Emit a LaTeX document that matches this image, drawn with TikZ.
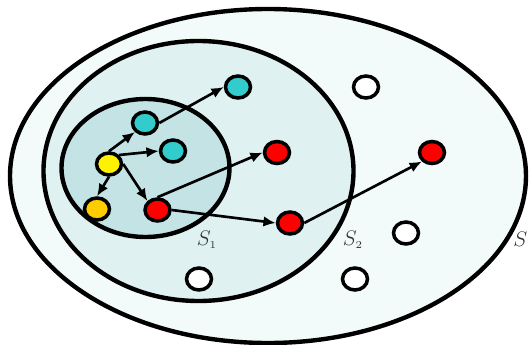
\documentclass[tikz,border=0pt]{standalone}
\usepackage{tikz}
\usetikzlibrary{shapes.geometric,arrows.meta}
\definecolor{setS}{HTML}{F2FAFA}
\definecolor{setSb}{HTML}{E0F1F2}
\definecolor{setSa}{HTML}{C4E3E5}
\definecolor{cyanpt}{HTML}{33CCCC}
\definecolor{orangept}{HTML}{FFCC00}
\begin{document}
\begin{tikzpicture}[>=latex,x=0.02cm,y=-0.02cm,
    pt/.style={ellipse,draw,line width=2pt,minimum width=0.5cm,minimum height=0.44cm,inner sep=0pt},
    arr/.style={-{Latex[length=7pt,width=6pt]},line width=1.5pt},
    setline/.style={line width=2.5pt},
    setlabel/.style={text=black!80,font=\large\itshape,inner sep=0pt}]
  % Rahmen (1 Einheit = 1 Pixel)
  \useasboundingbox (0,0) rectangle (529,345);
  % Mengen S, S2, S1
  \draw[setline,fill=setS] (268,176) ellipse [x radius=258,y radius=167];
  \draw[setline,fill=setSb] (198.5,171) ellipse [x radius=155,y radius=130];
  \draw[setline,fill=setSa] (145.5,168) ellipse [x radius=84,y radius=69];
  \node[setlabel] (lS1) at (207,240) {$S_{\scriptscriptstyle 1}$};
  \node[setlabel] (lS2) at (353,240) {$S_{\scriptscriptstyle 2}$};
  \node[setlabel,anchor=west] (lS) at (513,239) {$S$};
  % Punkte
  \node[pt,fill=yellow] (y) at (109,164) {};
  \node[pt,fill=orangept] (o) at (97,209) {};
  \node[pt,fill=cyanpt] (c1) at (145,123) {};
  \node[pt,fill=cyanpt] (c2) at (173,151) {};
  \node[pt,fill=cyanpt] (c3) at (238,87) {};
  \node[pt,fill=red] (r1) at (157.5,210) {};
  \node[pt,fill=red] (r2) at (277,152.5) {};
  \node[pt,fill=red] (r3) at (290,223) {};
  \node[pt,fill=red] (r4) at (432,152.5) {};
  \node[pt,fill=white] (w1) at (366,87) {};
  \node[pt,fill=white] (w2) at (406,233) {};
  \node[pt,fill=white] (w3) at (199,279) {};
  \node[pt,fill=white] (w4) at (355,279) {};
  % Pfeile
  \draw[arr] (y.north) -- (c1.south west);
  \draw[arr] (y.north east) -- (c2.west);
  \draw[arr] (y.south) -- (o.north);
  \draw[arr] (y.east) -- (r1.north west);
  \draw[arr] (c1.east) -- (c3.west);
  \draw[arr] (r1.north) -- (r2.west);
  \draw[arr] (r1.east) -- (r3.west);
  \draw[arr] (r3.east) -- (r4.south west);
\end{tikzpicture}
\end{document}
